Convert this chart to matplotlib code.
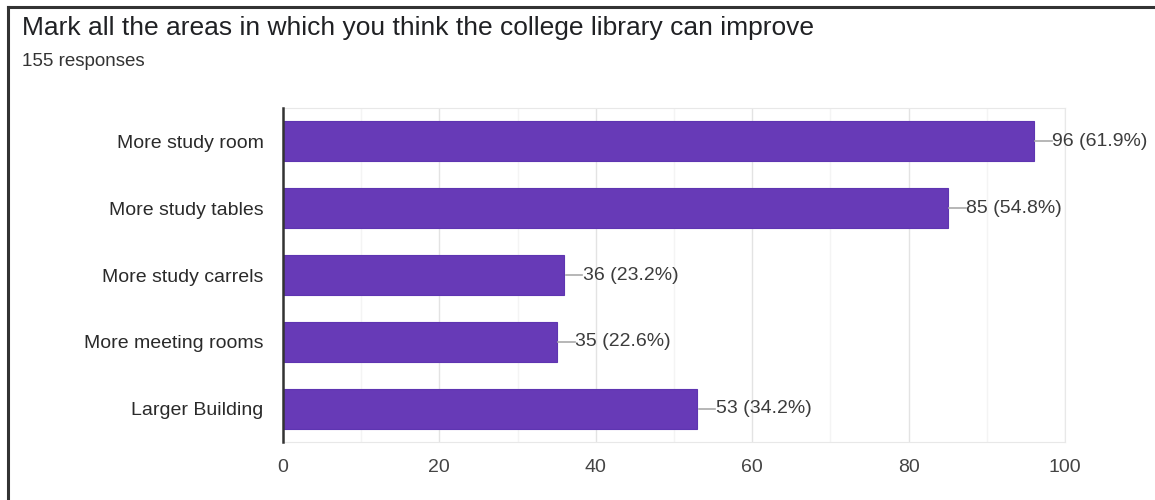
import numpy as np
import matplotlib.pyplot as plt
from matplotlib.ticker import MultipleLocator

plt.rcParams['font.family'] = ['Liberation Sans', 'DejaVu Sans']

# data
categories = ['More study room', 'More study tables', 'More study carrels',
              'More meeting rooms', 'Larger Building']
counts = [96, 85, 36, 35, 53]
percents = [61.9, 54.8, 23.2, 22.6, 34.2]
title = 'Mark all the areas in which you think the college library can improve'
subtitle = '155 responses'

fig = plt.figure(figsize=(11.55, 5), dpi=100)
ax = fig.add_axes([0.245, 0.116, 0.677, 0.668])

y = np.arange(len(categories))
ax.barh(y, counts, height=0.6, color='#673ab7', edgecolor='#5e35b1', linewidth=0.8, zorder=3)

# value labels with the little leader line
for yi, c, p in zip(y, counts, percents):
    ax.plot([c + 0.2, c + 2.3], [yi, yi], color='#aaaaaa', lw=1.2, zorder=3)
    ax.text(c + 2.4, yi, '%d (%.1f%%)' % (c, p), va='center', ha='left',
            fontsize=14, color='#3c3c3c')

ax.set_xlim(0, 100)
ax.set_ylim(4.5, -0.5)
ax.set_yticks(y)
ax.set_yticklabels(categories, fontsize=14)
ax.xaxis.set_major_locator(MultipleLocator(20))
ax.xaxis.set_minor_locator(MultipleLocator(10))
ax.tick_params(axis='both', which='both', length=0, labelsize=14, labelcolor='#444444')
ax.tick_params(axis='y', pad=14, labelcolor='#2a2a2a')
ax.tick_params(axis='x', pad=12)
ax.grid(axis='x', which='major', color='#e3e3e3', lw=1, zorder=0)
ax.grid(axis='x', which='minor', color='#f4f4f4', lw=1, zorder=0)

for s in ['top', 'right', 'bottom']:
    ax.spines[s].set_color('#e8e8e8')
ax.spines['left'].set_color('#333333')
ax.spines['left'].set_linewidth(1.8)
ax.spines['left'].set_zorder(4)

fig.text(22 / 1155, 1 - 28 / 500, title, fontsize=19, color='#202124', va='center', ha='left')
fig.text(22 / 1155, 1 - 61 / 500, subtitle, fontsize=13.5, color='#333333', va='center', ha='left')

# frame of the screenshot (left and top edges)
fig.add_artist(plt.Line2D([8 / 1155, 8 / 1155], [0, 1 - 7 / 500], color='#333333', lw=2.2))
fig.add_artist(plt.Line2D([8 / 1155, 1], [1 - 7 / 500, 1 - 7 / 500], color='#333333', lw=2.2))

fig.savefig('out.png', dpi=100)
